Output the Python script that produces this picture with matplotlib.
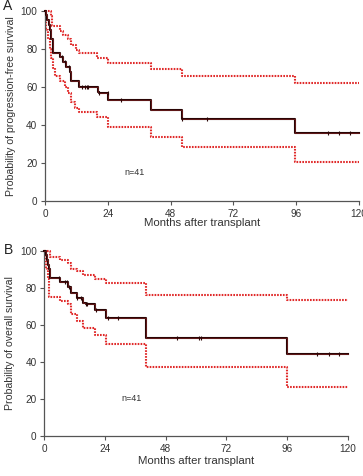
import matplotlib
matplotlib.use("Agg")
import matplotlib.pyplot as plt

plt.rcParams["font.family"] = ["Liberation Sans", "DejaVu Sans"]

# Panel A: progression-free survival
pfs_t = [0, 0.5, 0.9, 1.4, 2.0, 2.4, 3.1, 5.9, 6.9, 8.2, 9.4, 10.1, 12.8, 20.3, 20.7, 24.2, 40.4, 52.2, 95.7, 120]
pfs_v = [100, 97.5, 95, 92.5, 90, 85, 78, 75.6, 73.3, 70.7, 68, 62.9, 60.2, 57.5, 56.6, 53, 47.9, 43.2, 36, 36]
pfs_cens_t = [6.4, 7.7, 9.0, 14.3, 15.3, 16.2, 16.6, 20.7, 24.0, 29.0, 52.4, 62.0, 108.0, 112.5, 116.6]

pfs_up_t = [0, 2.4, 2.7, 5.6, 6.9, 8.8, 10.1, 11.7, 12.8, 19.9, 23.9, 40.4, 52.2, 95.7, 120]
pfs_up_v = [100, 97, 92, 89.5, 87, 85, 82, 79.5, 77.6, 75, 72.4, 69.2, 65.7, 62.3, 62.3]
pfs_lo_t = [0, 0.5, 1.1, 1.8, 2.4, 3.1, 3.7, 5.6, 7.5, 8.8, 10.1, 11.5, 12.8, 19.9, 23.9, 40.4, 52.2, 95.7, 120]
pfs_lo_v = [100, 90, 85, 80, 75, 70, 66, 63, 60, 57, 52, 49, 47, 44, 38.8, 33.5, 28.5, 20.5, 20.5]

# Panel B: overall survival
os_t = [0, 0.5, 0.9, 1.3, 1.8, 2.2, 6.2, 9.5, 10.5, 12.8, 15.4, 16.5, 20.0, 24.4, 40.2, 95.9, 120]
os_v = [100, 97.5, 95, 92.5, 90, 85.4, 83.1, 80.5, 77.2, 74.5, 72, 71, 68, 63.8, 53.1, 44.4, 44.4]
os_cens_t = [6.0, 8.3, 9.1, 9.9, 12.8, 14.5, 16.5, 17.0, 20.4, 25.0, 29.1, 52.4, 61.3, 61.8, 108.0, 112.6, 116.7]

os_up_t = [0, 2.2, 6.2, 9.5, 10.5, 12.8, 15.4, 20.0, 24.4, 40.2, 95.9, 120]
os_up_v = [100, 96.6, 95, 93.5, 90, 89, 86.9, 85, 82.7, 76.1, 73.6, 73.6]
os_lo_t = [0, 0.5, 1.3, 1.8, 2.0, 6.2, 9.5, 10.5, 12.8, 15.4, 20.0, 24.4, 40.2, 95.9, 120]
os_lo_v = [100, 90, 85, 80, 75, 73, 71, 66, 62, 58.5, 54.3, 49.4, 37, 26.6, 26.6]

xticks = [0, 24, 48, 72, 96, 120]
yticks = [0, 20, 40, 60, 80, 100]

MAIN = "#6a1c1c"
CI = "#e02a2a"


def value_at(ts, vs, t):
    v = vs[0]
    for ti, vi in zip(ts, vs):
        if ti <= t:
            v = vi
    return v


def draw(ax, t, v, cens, ut, uv, lt, lv, ylabel, n_y):
    ax.step(ut, uv, where="post", color=CI, lw=1.5, ls=(0, (0.8, 0.6)), clip_on=False, zorder=2)
    ax.step(lt, lv, where="post", color=CI, lw=1.5, ls=(0, (0.8, 0.6)), clip_on=False, zorder=2)
    ax.step(t, v, where="post", color="#2a0505", lw=1.5, clip_on=False, zorder=3)
    ax.step(t, v, where="post", color=MAIN, lw=0.6, clip_on=False, zorder=4)
    cy = [value_at(t, v, c) for c in cens]
    ax.plot(cens, cy, ls="none", marker="|", ms=3.5, mew=0.8, color="#2a0505", zorder=5, clip_on=False)
    ax.set_xlim(0, 120)
    ax.set_ylim(0, 100)
    ax.set_xticks(xticks)
    ax.set_yticks(yticks)
    for s in ("top", "right"):
        ax.spines[s].set_visible(False)
    for s in ("left", "bottom"):
        ax.spines[s].set_color("#555555")
        ax.spines[s].set_linewidth(0.9)
    ax.tick_params(direction="out", length=3, width=0.8, color="#555555", labelsize=7.2, labelcolor="#333333", pad=2.5)
    ax.set_xlabel("Months after transplant", fontsize=8.2, color="#333333")
    ax.set_ylabel(ylabel, fontsize=7.6, color="#333333", labelpad=3.5)
    ax.text(30.3, n_y, "n=41", fontsize=6.5, color="#333333", va="center")


fig = plt.figure(figsize=(3.63, 4.76), dpi=100)
axA = fig.add_axes([0.124, 0.577, 0.865, 0.4005])
axB = fig.add_axes([0.122, 0.084, 0.836, 0.3893])

draw(axA, pfs_t, pfs_v, pfs_cens_t, pfs_up_t, pfs_up_v, pfs_lo_t, pfs_lo_v,
     "Probability of progression-free survival", 15)
draw(axB, os_t, os_v, os_cens_t, os_up_t, os_up_v, os_lo_t, os_lo_v,
     "Probability of overall survival", 20)

axA.xaxis.labelpad = -1
axB.xaxis.labelpad = 2

fig.text(0.008, 1.002, "A", fontsize=10, color="#222222", va="top", ha="left")
fig.text(0.012, 0.489, "B", fontsize=10, color="#222222", va="top", ha="left")

fig.savefig("out.png", dpi=100)
